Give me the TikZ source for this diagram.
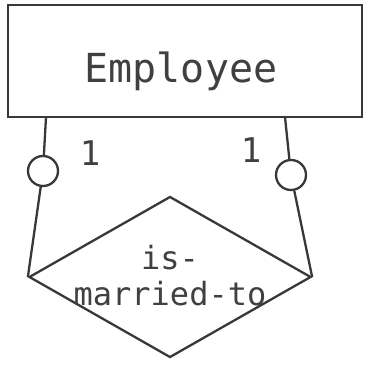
\documentclass[tikz,border=0pt]{standalone}
\usepackage{fontspec}
\newfontfamily\ermono{DejaVu Sans Mono}
\usetikzlibrary{shapes.geometric}

\begin{document}
\begin{tikzpicture}[x=1pt, y=-1pt,
		ink/.style = {draw=black!78, line width=2.3pt},
		entity/.style = {ink, rectangle, minimum width=354pt, minimum height=112pt, inner sep=0pt},
		relation/.style = {ink, diamond, minimum width=282pt, minimum height=161pt, inner sep=0pt},
		optional/.style = {ink, circle, minimum size=30pt, inner sep=0pt},
		card/.style = {text=black!75, font=\ermono\fontsize{34}{40}\selectfont},
		ername/.style = {text=black!75, font=\ermono\fontsize{40}{48}\selectfont},
		relname/.style = {text=black!75, align=center, font=\ermono\fontsize{32}{36}\selectfont}]
			\useasboundingbox (0,0) rectangle (366,366);
			\node[entity] (emp) at (185,61) {};
			\node[ername, anchor=base] (empname) at (181,83) {Employee};
			\node[relation] (rel) at (170,277) {};
			\node[relname] (relname) at (170,276) {is-\\married-to};
			\node[optional] (lopt) at (43,171) {};
			\node[optional] (ropt) at (291,175) {};
			\coordinate (ltop) at (46,117);
			\coordinate (rtop) at (285,117);
			\draw[ink] (ltop) -- (lopt);
			\draw[ink] (lopt) -- (rel.west);
			\draw[ink] (rtop) -- (ropt);
			\draw[ink] (ropt) -- (rel.east);
			\node[card] (lcard) at (90,153) {1};
			\node[card] (rcard) at (251,150) {1};
		\end{tikzpicture}
\end{document}
